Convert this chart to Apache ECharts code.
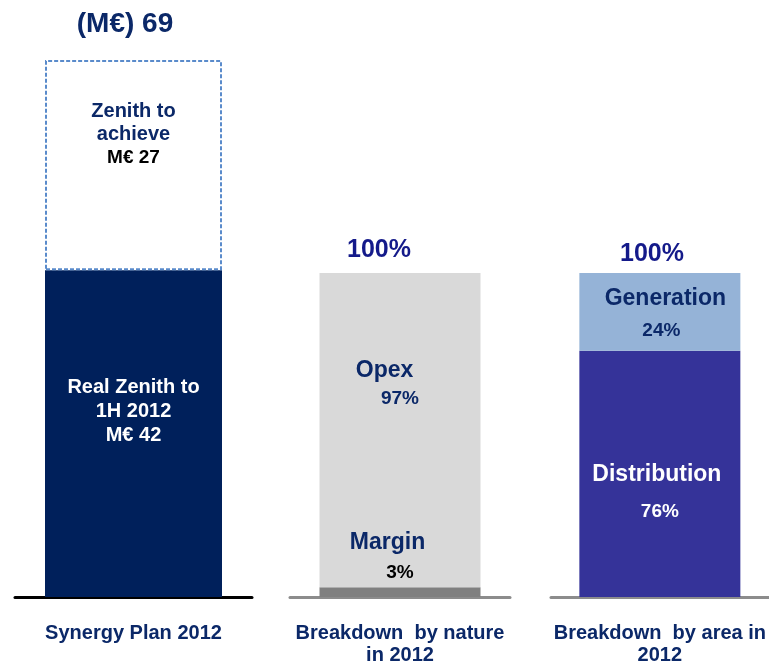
<!DOCTYPE html>
<html>
<head>
<meta charset="utf-8">
<script src="https://cdn.jsdelivr.net/npm/echarts@6/dist/echarts.min.js"></script>
<style>
  html, body { margin: 0; padding: 0; background: #fff; }
  #chart { width: 769px; height: 666px; }
</style>
</head>
<body>
<div id="chart"></div>
<script>
// data
const planCategory = ["Synergy Plan 2012"];
const planReal = [42];      // Real Zenith to 1H 2012
const planToAchieve = [27]; // Zenith to achieve
const natureCategory = ["Breakdown  by nature\nin 2012"];
const natureMargin = [3];
const natureOpex = [97];
const areaCategory = ["Breakdown  by area in\n2012"];
const areaDistribution = [76];
const areaGeneration = [24];

const planTotal = planReal[0] + planToAchieve[0];
const natureTotal = natureMargin[0] + natureOpex[0];
const areaTotal = areaDistribution[0] + areaGeneration[0];

const NAVY = "#0b2868";
const BLUE = "#141a8a";
const FONT = "Liberation Sans, Arial, sans-serif";

function catAxis(idx, data, lineColor) {
  return {
    type: "category", gridIndex: idx, data: data,
    axisLine: { lineStyle: { color: lineColor, width: 3 } },
    axisTick: { show: false },
    axisLabel: {
      margin: 25, color: NAVY, fontFamily: FONT, fontWeight: "bold",
      fontSize: 20, lineHeight: 22
    }
  };
}
function valAxis(idx, max) {
  return { type: "value", gridIndex: idx, min: 0, max: max, show: false };
}
function headText(x, y, text, color, size) {
  return {
    type: "text", x: x, y: y,
    style: {
      text: text, fill: color, font: "bold " + size + "px " + FONT,
      align: "center", verticalAlign: "middle"
    }
  };
}

const chart = echarts.init(document.getElementById("chart"));
chart.setOption({
  animation: false,
  textStyle: { fontFamily: FONT },
  graphic: [
    headText(125, 24, "(M€) " + planTotal, NAVY, 28),
    headText(379, 250, natureTotal + "%", BLUE, 25),
    headText(652, 254, areaTotal + "%", BLUE, 25)
  ],
  grid: [
    { left: 15, width: 237, top: 60, height: 537 },
    { left: 290, width: 220, top: 273, height: 327 },
    { left: 551, width: 218, top: 273, height: 327 }
  ],
  xAxis: [
    catAxis(0, planCategory, "#000"),
    catAxis(1, natureCategory, "#8c8c8c"),
    catAxis(2, areaCategory, "#8c8c8c")
  ],
  yAxis: [valAxis(0, planTotal), valAxis(1, 100), valAxis(2, 100)],
  series: [
    {
      type: "bar", xAxisIndex: 0, yAxisIndex: 0, stack: "plan",
      data: planReal, barWidth: 177,
      itemStyle: { color: "#00205b" },
      label: {
        show: true, position: "inside", offset: [0, -22],
        formatter: "Real Zenith to\n1H 2012\nM€ " + planReal[0],
        color: "#fff", fontSize: 20, fontWeight: "bold", lineHeight: 24
      }
    },
    {
      type: "bar", xAxisIndex: 0, yAxisIndex: 0, stack: "plan",
      data: planToAchieve, barWidth: 177,
      itemStyle: { color: "#fff", borderColor: "#5a8bcb", borderWidth: 2, borderType: [4, 2] },
      label: {
        show: true, position: "inside", offset: [0, -30],
        formatter: "{a|Zenith to\nachieve}\n{b|M€ " + planToAchieve[0] + "}",
        rich: {
          a: { color: NAVY, fontSize: 20, fontWeight: "bold", lineHeight: 23 },
          b: { color: "#000", fontSize: 19, fontWeight: "bold", lineHeight: 24 }
        }
      }
    },
    {
      type: "bar", xAxisIndex: 1, yAxisIndex: 1, stack: "nature",
      data: natureMargin, barWidth: 161,
      itemStyle: { color: "#808080" },
      label: {
        show: true, position: "top", distance: 0,
        formatter: "{a|Margin}\n{b|" + natureMargin[0] + "%}",
        rich: {
          a: { color: NAVY, fontSize: 23, fontWeight: "bold", lineHeight: 30, padding: [0, 25, 0, 0] },
          b: { color: "#000", fontSize: 19, fontWeight: "bold", lineHeight: 30 }
        }
      }
    },
    {
      type: "bar", xAxisIndex: 1, yAxisIndex: 1, stack: "nature",
      data: natureOpex, barWidth: 161,
      itemStyle: { color: "#d9d9d9" },
      label: {
        show: true, position: "inside", offset: [0, -45],
        formatter: "{a|Opex}\n{b|" + natureOpex[0] + "%}",
        rich: {
          a: { color: NAVY, fontSize: 23, fontWeight: "bold", lineHeight: 28, padding: [0, 31, 0, 0] },
          b: { color: NAVY, fontSize: 19, fontWeight: "bold", lineHeight: 28 }
        }
      }
    },
    {
      type: "bar", xAxisIndex: 2, yAxisIndex: 2, stack: "area",
      data: areaDistribution, barWidth: 161,
      itemStyle: { color: "#353399" },
      label: {
        show: true, position: "inside", offset: [0, 19],
        formatter: "{a|Distribution}\n{b|" + areaDistribution[0] + "%}",
        rich: {
          a: { color: "#fff", fontSize: 23, fontWeight: "bold", lineHeight: 37, padding: [0, 6, 0, 0] },
          b: { color: "#fff", fontSize: 19, fontWeight: "bold", lineHeight: 37 }
        }
      }
    },
    {
      type: "bar", xAxisIndex: 2, yAxisIndex: 2, stack: "area",
      data: areaGeneration, barWidth: 161,
      itemStyle: { color: "#95b3d7" },
      label: {
        show: true, position: "inside", offset: [0, 3],
        formatter: "{a|Generation}\n{b|" + areaGeneration[0] + "%}",
        rich: {
          a: { color: NAVY, fontSize: 23, fontWeight: "bold", lineHeight: 32, padding: [0, 0, 0, 11] },
          b: { color: NAVY, fontSize: 19, fontWeight: "bold", lineHeight: 32, padding: [0, 0, 0, 3] }
        }
      }
    }
  ]
});
window.addEventListener("resize", function () { chart.resize(); });
</script>
</body>
</html>
